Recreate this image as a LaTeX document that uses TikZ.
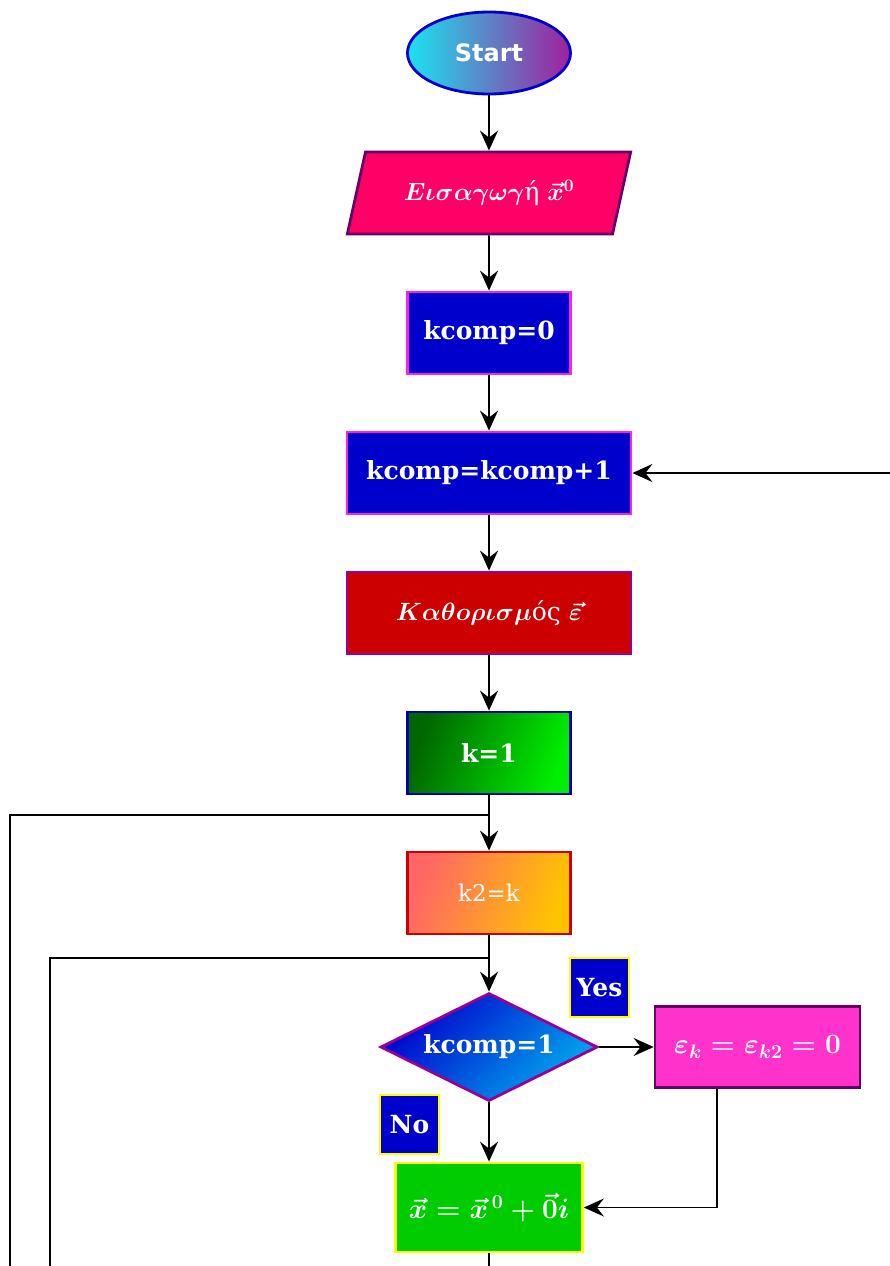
\documentclass[tikz,border=0pt]{standalone}
\usepackage{fix-cm}
\usepackage{amsmath}
\usepackage{amssymb}
\usepackage[no-math]{fontspec}
\setmainfont{DejaVu Serif}
\newfontfamily\startfont{DejaVu Sans}
\usepackage{xcolor}
\usetikzlibrary{shapes.geometric,arrows.meta}
\definecolor{startcyan}{HTML}{1BE3F0}
\definecolor{startpurple}{HTML}{A0209C}
\definecolor{inpink}{HTML}{FF0066}
\definecolor{darkpurple}{HTML}{660066}
\definecolor{midpurple}{HTML}{990099}
\definecolor{kblue}{HTML}{0000CC}
\definecolor{kmagenta}{HTML}{FF22DD}
\definecolor{kred}{HTML}{CC0000}
\definecolor{greendark}{HTML}{006600}
\definecolor{greenlight}{HTML}{00EE00}
\definecolor{orangelo}{HTML}{FF6666}
\definecolor{orangehi}{HTML}{FFC400}
\definecolor{decdark}{HTML}{0000CC}
\definecolor{declight}{HTML}{00AAEE}
\definecolor{zeropink}{HTML}{FF33CC}
\definecolor{xgreen}{HTML}{00CC00}
\definecolor{tagyellow}{HTML}{FFFF00}
\tikzstyle{block} = [rectangle, draw, line width=2.8pt, text=white,
    minimum height=82pt, inner sep=2pt, font=\fontsize{25}{30}\selectfont\bfseries]
\tikzstyle{mathfont} = [font=\fontsize{28}{34}\selectfont\mathversion{bold}]
\tikzstyle{startbox} = [ellipse, draw=kblue, line width=2.8pt, text=white,
    left color=startcyan, right color=startpurple,
    minimum width=163pt, minimum height=82pt, font=\fontsize{24}{28}\startfont\bfseries]
\tikzstyle{inbox} = [trapezium, trapezium left angle=68, trapezium right angle=112,
    trapezium stretches, draw=darkpurple, fill=inpink, line width=2.8pt, text=white,
    minimum width=284pt, minimum height=82pt,
    font=\fontsize{25}{30}\selectfont\mathversion{bold}]
\tikzstyle{decbox} = [diamond, draw=midpurple, line width=2.8pt, text=white,
    left color=decdark, right color=declight, shading angle=45, aspect=2, inner sep=0pt,
    minimum width=217pt, minimum height=108pt, font=\fontsize{25}{30}\selectfont\bfseries]
\tikzstyle{tagbox} = [rectangle, draw=tagyellow, fill=kblue, line width=2.8pt, text=white,
    minimum width=59pt, minimum height=59pt, inner sep=0pt, font=\fontsize{25}{30}\selectfont\bfseries]
\tikzstyle{flowline} = [draw=black, line width=1.8pt, -{Stealth[length=20pt,width=18pt,inset=7pt]}]
\tikzstyle{plainline} = [draw=black, line width=1.8pt]

\begin{document}
\begin{tikzpicture}[x=1pt, y=-1pt]
\useasboundingbox (0,0) rectangle (890,1266);

\node[startbox] (start) at (489,53) {Start};
\node[inbox] (inp) at (489,193) {$E\iota\sigma\alpha\gamma\omega\gamma$ή $\vec{x}^0$};
\node[block, fill=kblue, draw=kmagenta, minimum width=163pt] (kzero) at (489,333) {kcomp=0};
\node[block, fill=kblue, draw=kmagenta, minimum width=284pt] (kinc) at (489,473) {kcomp=kcomp+1};
\node[block, fill=kred, draw=midpurple, minimum width=284pt,
    font=\fontsize{25}{30}\selectfont\mathversion{bold}]
    (epsdef) at (489,613) {$K\alpha\theta o\rho\iota\sigma\mu$ός $\vec{\varepsilon}$};
\node[block, left color=greendark, right color=greenlight, shading angle=70, draw=kblue!85!black,
    minimum width=163pt] (kone) at (489,753) {k=1};
\node[block, left color=orangelo, right color=orangehi, shading angle=70, draw=kred,
    minimum width=163pt, font=\fontsize{23}{28}\selectfont] (ktwo) at (489,893) {k2=k};
\node[decbox] (dec) at (489,1047) {kcomp=1};
\node[block, mathfont, fill=zeropink, draw=darkpurple, minimum width=205pt, minimum height=81pt]
    (zero) at (757.5,1047) {$\varepsilon_k=\varepsilon_{k2}=0$};
\node[block, mathfont, fill=xgreen, draw=tagyellow, minimum width=187pt, minimum height=89pt]
    (xnew) at (489,1207.5) {$\vec{x}=\vec{x}^{\,0}+\vec{0}i$};
\node[tagbox] (yes) at (599.5,987.5) {Yes};
\node[tagbox] (no) at (409.5,1124.5) {No};

% loose ends running off the sheet
\coordinate (back) at (890,473);
\coordinate (joinA) at (489,815);
\coordinate (loopA) at (10,1266);
\coordinate (joinB) at (489,958);
\coordinate (loopB) at (50,1266);
\coordinate (bend) at (717,1207.5);
\coordinate (down) at (489,1266);

\draw[flowline] (start) -- (inp);
\draw[flowline] (inp) -- (kzero);
\draw[flowline] (kzero) -- (kinc);
\draw[flowline] (back) -- (kinc);
\draw[flowline] (kinc) -- (epsdef);
\draw[flowline] (epsdef) -- (kone);
\draw[flowline] (kone) -- (ktwo);
\draw[plainline] (loopA) |- (joinA);
\draw[flowline] (ktwo) -- (dec);
\draw[plainline] (loopB) |- (joinB);
\draw[flowline] (dec) -- (zero);
\draw[flowline] (dec) -- (xnew);
\draw[flowline] (zero.south -| bend) -- (bend) -- (xnew);
\draw[plainline] (xnew) -- (down);
\end{tikzpicture}
\end{document}
